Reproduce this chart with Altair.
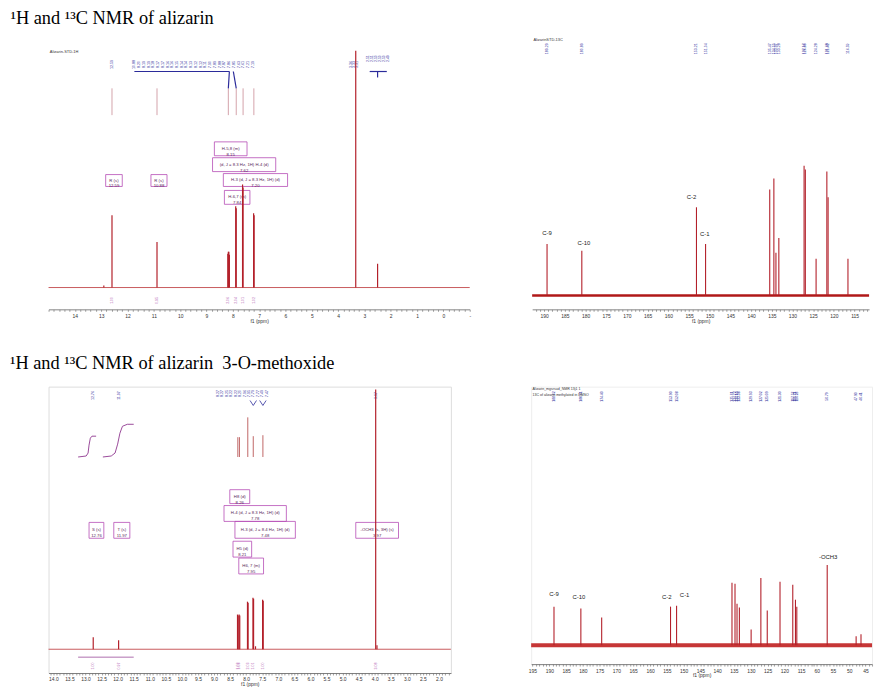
import altair as alt
import pandas as pd

SANS = "Liberation Sans"
SERIF = "Liberation Serif"
PEAK = "#b3202a"
BASE = "#c85a5c"
BLUE = "#2b2b9a"
MAG = "#b64cb6"
MAGTXT = "#5a1f5a"
PINK = "#c07a86"

TITLE_1 = "¹H and ¹³C NMR of alizarin"
TITLE_2 = "¹H and ¹³C NMR of alizarin\u00a0 3-O-methoxide"

# ================= A: 1H NMR of alizarin =================
A_ppm = [12.90, 12.59, 10.88, 8.19, 8.17, 8.15, 8.13, 7.89, 7.87, 7.63, 7.61, 7.21, 7.19, 3.33, 2.50]
A_int = [2, 73, 46, 34, 36, 36, 33, 82, 80, 104, 101, 75, 73, 239, 24]
A_conn_ppm = [12.59, 10.88, 8.17, 7.87, 7.61, 7.20]
A_cluster_labels = ["10.88", "8.20", "8.19", "8.19", "8.18", "8.17", "8.17", "8.16", "8.16", "8.15",
                    "8.14", "8.14", "8.13", "8.12", "8.12", "8.11", "7.90", "7.89", "7.88", "7.87",
                    "7.86", "7.85", "7.63", "7.61", "7.21", "7.19"]
A_single_labels = ["12.59", "3.36", "3.33", "3.31"]
A_single_ppm = [12.59, 3.52, 3.40, 3.28]
A_dmso_labels = ["2.51", "2.51", "2.50", "2.50", "2.50", "2.49"]
A_integrals = ["1.00", "0.95", "2.06", "2.04", "1.01", "1.02"]
A_box_x1 = [8.70, 8.77, 8.36, 8.32, 12.83, 11.11]
A_box_x2 = [7.46, 6.37, 5.92, 7.35, 12.20, 10.50]
A_box_y1 = [133, 117, 102, 84, 102, 102]
A_box_y2 = [147, 131, 115, 98, 114, 114]
A_box_text = ["H-5,8 (m)\n8.15", "(d, J = 8.3 Hz, 1H) H-4 (d)\n7.62", "H-3 (d, J = 8.3 Hz, 1H) (d)\n7.20",
              "H-6,7 (m)\n7.84", "R (s)\n12.59", "R (s)\n10.88"]
A_ticks = [round(15 - i * 0.2, 1) for i in range(81)]

# ================= B: 13C NMR of alizarin =================
B_ppm = [189.3, 180.9, 153.2, 151.0, 135.5, 134.5, 134.0, 133.3, 127.2, 126.9, 124.3, 121.7, 121.4, 116.6]
B_int = [52, 45, 89, 52, 107, 118, 43, 58, 131, 127, 37, 125, 99, 37]
B_peak_text = ["189.29", "180.89", "153.21", "151.04", "135.47", "134.50", "133.97", "133.28",
               "127.17", "126.89", "124.28", "121.68", "121.42", "116.59"]
B_c_labels = ["C-9", "C-10", "C-2", "C-1"]
B_c_ppm = [189.3, 180.4, 154.4, 151.2]
B_c_v = [63, 53, 99, 62]
B_ticks = list(range(193, 111, -1))

# ================= C: 1H NMR of alizarin 3-O-methoxide =================
C_ppm = [12.76, 11.97, 8.27, 8.25, 8.22, 8.20, 7.96, 7.94, 7.79, 7.77, 7.71, 7.49, 7.47, 3.97, 3.93]
C_int = [12, 9, 35, 34, 35, 34, 48, 47, 52, 51, 3, 50, 49, 262, 4]
C_seg_ppm = [8.26, 8.21, 7.95, 7.78, 7.48]
C_seg_top = [214, 214, 234, 215, 216]
C_int1_ppm = [13.23, 12.98, 12.92, 12.89, 12.85, 12.80, 12.67]
C_int1_v = [194, 195, 198, 206, 213, 215, 215]
C_int2_ppm = [12.46, 12.20, 12.08, 12.00, 11.93, 11.85, 11.70, 11.50]
C_int2_v = [194, 195, 198, 207, 218, 225, 227, 227]
C_top_labels = ["12.76", "11.97", "3.97"]
C_top_ppm = [12.76, 11.97, 3.97]
C_cluster_labels = ["8.27", "8.27", "8.25", "8.22", "8.22", "8.20", "7.96", "7.95", "7.79", "7.77", "7.49", "7.47"]
C_integral_ppm = [12.76, 11.97, 8.26, 8.21, 7.95, 7.78, 7.48, 3.97]
C_integrals = ["1.00", "0.97", "1.02", "1.03", "2.03", "1.01", "1.00", "3.08"]
C_box_x1 = [8.51, 8.69, 8.35, 8.41, 8.23, 12.89, 12.12, 4.59]
C_box_x2 = [7.89, 6.75, 6.47, 7.83, 7.46, 12.43, 11.62, 3.26]
C_box_y1 = [147, 129, 112, 93, 76, 112, 112, 112]
C_box_y2 = [161, 145, 129, 109, 92, 128, 128, 128]
C_box_text = ["H8 (d)\n8.26", "H-4 (d, J = 8.3 Hz, 1H) (d)\n7.78", "H-3 (d, J = 8.4 Hz, 1H) (d)\n7.48",
              "H5 (d)\n8.21", "H6, 7 (m)\n7.95", "S (s)\n12.76", "T (s)\n11.97", "-OCH3 (s, 3H) (s)\n3.97"]
C_ticks = [round(14.1 - i * 0.1, 1) for i in range(125)]

# ================= D: 13C NMR of alizarin 3-O-methoxide =================
D_ppm = [188.6, 180.6, 174.4, 153.9, 152.1, 135.6, 134.7, 134.1, 133.4, 129.9, 127.0, 125.1,
         121.3, 117.5, 116.7, 116.3, 56.8, 47.9, 46.4]
D_int = [39, 37, 28, 39, 40, 63, 62, 42, 38, 16, 68, 35, 64, 61, 46, 39, 81, 9, 11]
D_peak_text = ["188.62", "180.61", "174.40", "153.90", "152.08", "135.61", "134.72", "134.10", "133.38",
               "129.93", "127.02", "125.09", "121.30", "117.52", "116.71", "116.28", "56.79", "47.90", "46.41"]
D_c_labels = ["C-9", "C-10", "C-2", "C-1", "-OCH3"]
D_c_ppm = [188.6, 181.2, 155.0, 149.7, 56.5]
D_c_v = [52, 49, 49, 51, 89]
D_ticks = list(range(195, 111, -1)) + list(range(61, 42, -1))


def make_axis(ticks, label_expr):
    return alt.Axis(values=ticks, labelExpr=label_expr, title="f1 (ppm)", grid=False,
                    labelOverlap=False, labelFlush=False, tickSize=2, tickColor="#666",
                    domainColor="#666", domainWidth=0.8, tickWidth=0.6,
                    labelFont=SANS, labelFontSize=5, labelColor="#333", labelPadding=2,
                    titleFont=SANS, titleFontSize=5, titleFontWeight="normal", titleColor="#333",
                    titlePadding=0)


def encoders(xscale, axis, ydom):
    yscale = alt.Scale(domain=ydom, nice=False, zero=False)

    def X(f):
        return alt.X(f"{f}:Q", scale=xscale, axis=axis)

    def Y(f):
        return alt.Y(f"{f}:Q", scale=yscale, axis=None)
    return X, Y


def baseline(Y, color, w, opacity=1.0):
    return alt.Chart(pd.DataFrame({"v": [0]})).mark_rule(
        color=color, strokeWidth=w, opacity=opacity).encode(y=Y("v"))


def peaks(X, Y, ppm, inten, color, w):
    df = pd.DataFrame({"ppm": ppm, "top": inten})
    df["base"] = 0
    return alt.Chart(df).mark_rule(color=color, strokeWidth=w).encode(
        x=X("ppm"), y=Y("base"), y2=alt.Y2("top"))


def segs(X, Y, xa, ya, xb, yb, color, w):
    df = pd.DataFrame({"xa": xa, "ya": ya, "xb": xb, "yb": yb})
    return alt.Chart(df).mark_rule(color=color, strokeWidth=w).encode(
        x=X("xa"), y=Y("ya"), x2=alt.X2("xb"), y2=alt.Y2("yb"))


def texts(X, Y, ppm, labels, v, color, size, angle=270, align="center"):
    df = pd.DataFrame({"ppm": ppm, "t": labels})
    df["v"] = v
    return alt.Chart(df).mark_text(angle=angle, fontSize=size, color=color, font=SANS,
                                   align=align, baseline="middle").encode(
        x=X("ppm"), y=Y("v"), text="t:N")


def spread(X, Y, labels, start, step, v, color, size):
    df = pd.DataFrame({"t": labels})
    return alt.Chart(df).transform_window(i="row_number()").transform_calculate(
        ppm=f"{start} - (datum.i - 1) * {step}", v=f"{v}").mark_text(
        angle=270, fontSize=size, color=color, font=SANS, align="center", baseline="middle").encode(
        x=X("ppm"), y=Y("v"), text="t:N")


def boxes(X, Y, x1, x2, y1, y2, labels):
    df = pd.DataFrame({"x1": x1, "x2": x2, "y1": y1, "y2": y2, "t": labels})
    rect = alt.Chart(df).mark_rect(fill="#ffffff", fillOpacity=0, stroke=MAG, strokeWidth=0.8).encode(
        x=X("x1"), x2=alt.X2("x2"), y=Y("y1"), y2=alt.Y2("y2"))
    txt = alt.Chart(df).transform_calculate(
        cx="(datum.x1 + datum.x2) / 2", cy="(datum.y1 + datum.y2) / 2").mark_text(
        fontSize=4.3, lineBreak="\n", lineHeight=6, color=MAGTXT, font=SANS,
        align="center", baseline="middle").encode(x=X("cx"), y=Y("cy"), text="t:N")
    return [rect, txt]


def header(X, Y, ppm, lines, vs, size):
    df = pd.DataFrame({"t": lines, "v": vs})
    df["ppm"] = ppm
    return alt.Chart(df).mark_text(fontSize=size, color="#333", font=SANS, align="left",
                                   baseline="middle").encode(x=X("ppm"), y=Y("v"), text="t:N")


# ---------- Panel A ----------
XA, YA = encoders(alt.Scale(domain=[15, -1], nice=False, zero=False),
                  make_axis(A_ticks, "abs(datum.value - round(datum.value)) < 0.01 && datum.value < 14.5 ? "
                                     "(datum.value < -0.5 ? '-' : format(datum.value, 'd')) : ''"),
                  [-22, 251])
pA_layers = [
    baseline(YA, BASE, 1),
    segs(XA, YA, A_conn_ppm, [174] * 6, A_conn_ppm, [201] * 6, PINK, 0.7),
    segs(XA, YA, [11.74, 8.13, 7.98, 2.80, 2.50], [218, 218, 218, 218, 218],
         [8.13, 8.17, 7.87, 2.15, 2.50], [218, 201, 201, 218, 212], BLUE, 1.2),
    spread(XA, YA, A_cluster_labels, 11.74, 0.18, 225, BLUE, 3.6),
    texts(XA, YA, A_single_ppm, A_single_labels, 225, BLUE, 3.6),
    spread(XA, YA, A_dmso_labels, 2.87, 0.15, 231, BLUE, 3.6),
    texts(XA, YA, A_conn_ppm, A_integrals, -13, "#b05ab0", 3.6),
    header(XA, YA, 14.95, ["Alizarin-STD-1H"], [238], 4),
] + boxes(XA, YA, A_box_x1, A_box_x2, A_box_y1, A_box_y2, A_box_text) + [
    peaks(XA, YA, A_ppm, A_int, PEAK, 1.2),
]
pA = alt.layer(*pA_layers).properties(width=425, height=273)

# ---------- Panel B ----------
XB, YB = encoders(alt.Scale(domain=[192.9, 111.5], nice=False, zero=False),
                  make_axis(B_ticks, "datum.value % 5 === 0 && datum.value <= 190 && datum.value >= 115 ? "
                                     "format(datum.value, 'd') : ''"),
                  [-14, 259])
pB = alt.layer(
    baseline(YB, "#b01818", 2.4),
    texts(XB, YB, B_ppm, B_peak_text, 249, BLUE, 3.6),
    header(XB, YB, 192.6, ["AlizarinSTD-13C"], [258], 4),
    peaks(XB, YB, B_ppm, B_int, PEAK, 1.1),
    texts(XB, YB, B_c_ppm, B_c_labels, B_c_v, "#222", 6, angle=0),
).properties(width=340, height=273)

# ---------- Panel C ----------
XC, YC = encoders(alt.Scale(domain=[14.15, 1.63], nice=False, zero=False),
                  make_axis(C_ticks, "abs(datum.value * 2 - round(datum.value * 2)) < 0.01 && datum.value <= 14.01 && datum.value >= 1.99 ? "
                                     "format(datum.value, '.1f') : ''"),
                  [-24, 265])
int1 = pd.DataFrame({"ppm": C_int1_ppm, "v": C_int1_v})
int1["g"] = "a"
int2 = pd.DataFrame({"ppm": C_int2_ppm, "v": C_int2_v})
int2["g"] = "b"
pC_layers = [
    baseline(YC, BASE, 1),
    alt.Chart(pd.concat([int1, int2])).mark_line(color="#9a4a9a", strokeWidth=1).encode(
        x=XC("ppm"), y=YC("v"), detail="g:N"),
    segs(XC, YC, C_seg_ppm, [194] * 5, C_seg_ppm, C_seg_top, "#b04040", 0.8),
    texts(XC, YC, C_top_ppm, C_top_labels, 256, BLUE, 3.6),
    spread(XC, YC, C_cluster_labels, 8.88, 0.138, 258, BLUE, 3.6),
    segs(XC, YC, [7.88, 7.68, 7.58, 7.38], [251, 251, 251, 251], [7.78, 7.78, 7.48, 7.48],
         [246, 246, 246, 246], BLUE, 0.8),
    segs(XC, YC, [13.23], [-8], [11.50], [-8], "#9a4a9a", 0.8),
    texts(XC, YC, C_integral_ppm, C_integrals, -17, "#b05ab0", 3.6),
] + boxes(XC, YC, C_box_x1, C_box_x2, C_box_y1, C_box_y2, C_box_text) + [
    peaks(XC, YC, C_ppm, C_int, PEAK, 1.2),
]
pC = alt.layer(*pC_layers).properties(width=406, height=289,
                                       view=alt.ViewBackground(stroke="#dddddd", strokeWidth=1))

# ---------- Panel D ----------
XD, YD = encoders(alt.Scale(domain=[195.4, 111.6, 61.3, 43.0], range=[0, 284, 284, 344],
                            nice=False, zero=False),
                  make_axis(D_ticks, "datum.value % 5 === 0 ? format(datum.value, 'd') : ''"),
                  [-19, 261])
pD = alt.layer(
    baseline(YD, "#c02020", 4, 0.9),
    texts(XD, YD, D_ppm, D_peak_text, 251, BLUE, 3.4),
    header(XD, YD, 195.0, ["Alizarin_mgsrsud_NMR 13j1 1", "13C of alizarin methylated in DMSO"],
           [259, 253], 3.6),
    peaks(XD, YD, D_ppm, D_int, PEAK, 1.1),
    texts(XD, YD, D_c_ppm, D_c_labels, D_c_v, "#222", 6, angle=0),
).properties(width=344, height=280, view=alt.ViewBackground(stroke="#eeeeee", strokeWidth=1))


def row_title(text, offset):
    return alt.TitleParams(text=text, anchor="start", font=SERIF, fontSize=18.5, fontWeight="normal",
                           color="black", dx=-38, offset=offset)


row1 = alt.hconcat(pA, pB, spacing=60, title=row_title(TITLE_1, 10))
row2 = alt.hconcat(pC, pD, spacing=76, title=row_title(TITLE_2, 14))

chart = alt.vconcat(row1, row2, spacing=30).properties(
    padding={"left": 10, "right": 2, "top": 6, "bottom": 2}
).configure_view(strokeWidth=0)

chart.save("out.html", embed_options={"renderer": "svg", "actions": False})
